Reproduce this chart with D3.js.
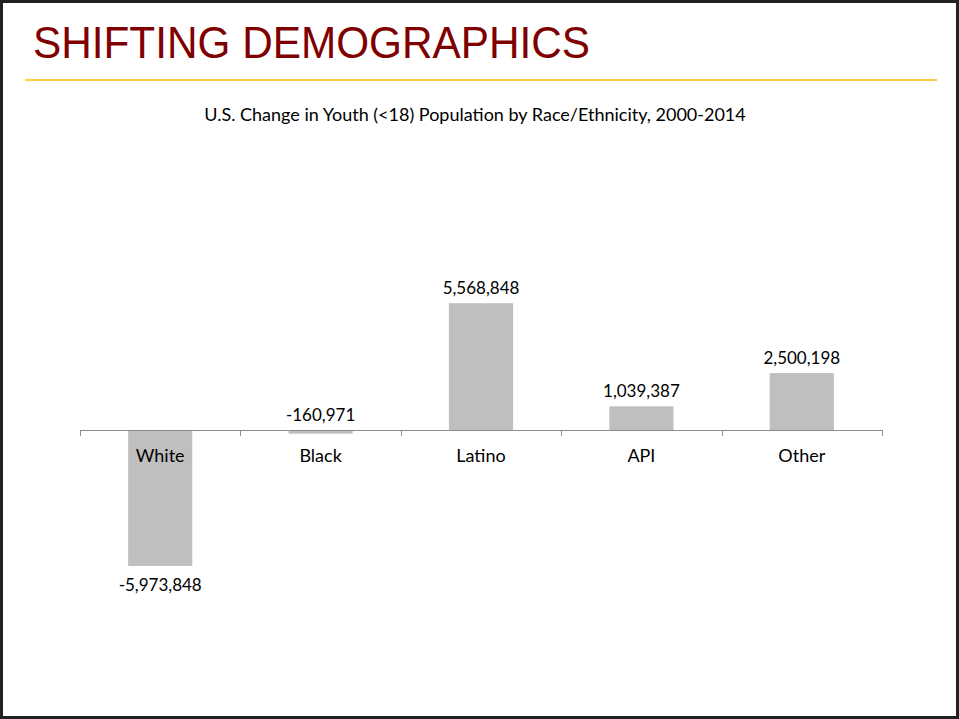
<!DOCTYPE html>
<html>
<head>
<meta charset="utf-8">
<script src="https://cdn.jsdelivr.net/npm/d3@7"></script>
<style>
  body { margin: 0; background: #fff; }
  svg { display: block; }
</style>
</head>
<body>
<svg></svg>
<script>
const width = 959,
      height = 719;

const categories = ["White", "Black", "Latino", "API", "Other"];
const changes = [-5973848, -160971, 5568848, 1039387, 2500198];

const svg = d3.select("svg")
              .attr("width", width)
              .attr("height", height);

// Slide frame
svg.append("rect")
   .attr("x", 1.5).attr("y", 1.5)
   .attr("width", width - 3).attr("height", height - 3)
   .attr("fill", "#fff")
   .attr("stroke", "#222")
   .attr("stroke-width", 3);

// Slide heading
svg.append("text")
   .attr("x", 33)
   .attr("y", 58)
   .attr("fill", "#7f0000")
   .attr("font-family", "Liberation Sans, Arial, sans-serif")
   .attr("font-size", 43.5)
   .attr("textLength", 557)
   .attr("lengthAdjust", "spacingAndGlyphs")
   .text("SHIFTING DEMOGRAPHICS");

svg.append("line")
   .attr("x1", 25).attr("x2", 937)
   .attr("y1", 80).attr("y2", 80)
   .attr("stroke", "#ffc000")
   .attr("stroke-width", 1.5);

// Chart title
svg.append("text")
   .attr("x", 475)
   .attr("y", 121)
   .attr("text-anchor", "middle")
   .attr("font-family", "Lato, 'Open Sans', sans-serif")
   .attr("font-size", 18)
   .attr("fill", "#000")
   .text("U.S. Change in Youth (<18) Population by Race/Ethnicity, 2000-2014");

const x = d3.scaleBand()
            .domain(categories)
            .range([80, 882])
            .paddingInner(0.6)
            .paddingOuter(0.3);

const y = d3.scaleLinear()
            .domain([-6000000, 6000000])
            .range([566.6, 293.4]);

const fmt = (v) => d3.format(",")(v).replace("\u2212", "-");

// Bars
svg.append("g")
   .selectAll("rect")
   .data(categories)
   .enter().append("rect")
   .attr("x", (d) => x(d))
   .attr("width", x.bandwidth())
   .attr("y", (d, i) => Math.min(y(changes[i]), y(0)))
   .attr("height", (d, i) => Math.abs(y(changes[i]) - y(0)))
   .attr("fill", "#bfbfbf");

// Axis line at zero with category separators
const axis = svg.append("g").attr("stroke", "#8c8c8c");
axis.append("line")
    .attr("x1", 80).attr("x2", 882)
    .attr("y1", y(0) + 0.5).attr("y2", y(0) + 0.5);
axis.selectAll(".tick")
    .data(d3.range(categories.length + 1))
    .enter().append("line")
    .attr("x1", (d) => Math.round(80 + d * (802 / categories.length)) + 0.5)
    .attr("x2", (d) => Math.round(80 + d * (802 / categories.length)) + 0.5)
    .attr("y1", y(0))
    .attr("y2", y(0) + 6);

// Category labels
svg.append("g")
   .selectAll("text")
   .data(categories)
   .enter().append("text")
   .attr("x", (d) => x(d) + x.bandwidth() / 2)
   .attr("y", y(0) + 32)
   .attr("text-anchor", "middle")
   .attr("font-family", "Lato, 'Open Sans', sans-serif")
   .attr("font-size", 18)
   .attr("fill", "#000")
   .text((d) => d);

// Value labels
svg.append("g")
   .selectAll("text")
   .data(categories)
   .enter().append("text")
   .attr("x", (d) => x(d) + x.bandwidth() / 2)
   .attr("y", (d, i) => changes[i] < -1000000 ? y(changes[i]) + 25 : Math.min(y(changes[i]), y(0)) - 9)
   .attr("text-anchor", "middle")
   .attr("font-family", "Lato, 'Open Sans', sans-serif")
   .attr("font-size", 17)
   .attr("fill", "#000")
   .text((d, i) => fmt(changes[i]));
</script>
</body>
</html>
